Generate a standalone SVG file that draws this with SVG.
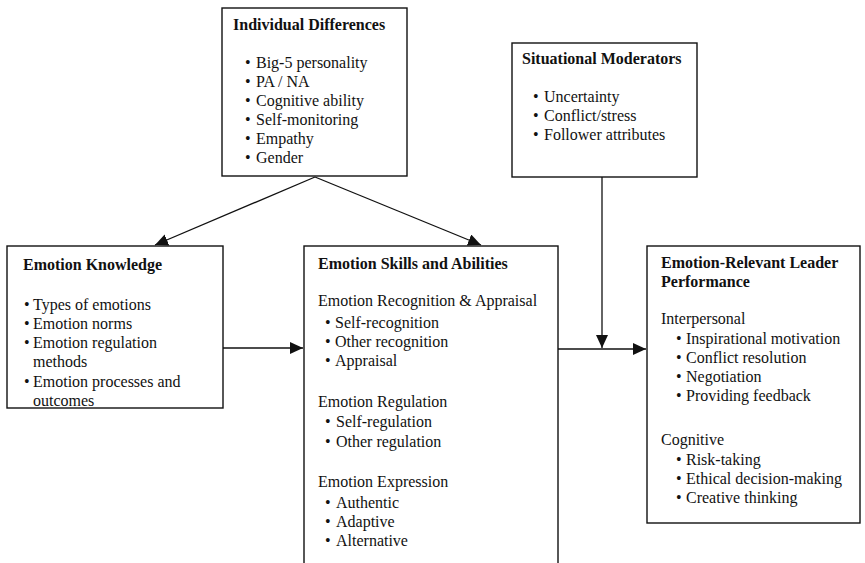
<svg xmlns="http://www.w3.org/2000/svg" width="865" height="563" viewBox="0 0 865 563">
<style>
.box{fill:#fff;stroke:#111;stroke-width:1.4}
text{font-family:"Liberation Serif","Times New Roman",serif;font-size:16px;fill:#111}
.t{font-weight:bold}
.c{fill:none;stroke:#111;stroke-width:1.3}
</style>
<defs>
<marker id="ah" markerUnits="userSpaceOnUse" markerWidth="14" markerHeight="12" refX="13" refY="6" orient="auto">
<path d="M0,0 L13,6 L0,12 Z" fill="#111"/>
</marker>
</defs>
<rect width="865" height="563" fill="#fff"/>
<g id="connectors">
<line class="c" x1="315" y1="177" x2="155" y2="245" marker-end="url(#ah)"/>
<line class="c" x1="315" y1="177" x2="481" y2="245" marker-end="url(#ah)"/>
<line class="c" x1="223" y1="348" x2="303" y2="348" marker-end="url(#ah)"/>
<line class="c" x1="558" y1="349" x2="646" y2="349" marker-end="url(#ah)"/>
<line class="c" x1="602" y1="177" x2="602" y2="348" marker-end="url(#ah)"/>
</g>
<g id="individual-differences">
<rect class="box" x="222" y="8" width="185" height="168"/>
<text class="t" x="233" y="30">Individual Differences</text>
<text x="245" y="68">• <tspan x="256">Big-5 personality</tspan></text>
<text x="245" y="87">• <tspan x="256">PA / NA</tspan></text>
<text x="245" y="106">• <tspan x="256">Cognitive ability</tspan></text>
<text x="245" y="125">• <tspan x="256">Self-monitoring</tspan></text>
<text x="245" y="144">• <tspan x="256">Empathy</tspan></text>
<text x="245" y="163">• <tspan x="256">Gender</tspan></text>
</g>
<g id="situational-moderators">
<rect class="box" x="512" y="43" width="185" height="134"/>
<text class="t" x="522" y="64">Situational Moderators</text>
<text x="533" y="102">• <tspan x="544">Uncertainty</tspan></text>
<text x="533" y="121">• <tspan x="544">Conflict/stress</tspan></text>
<text x="533" y="140">• <tspan x="544">Follower attributes</tspan></text>
</g>
<g id="emotion-knowledge">
<rect class="box" x="7" y="246" width="216" height="162"/>
<text class="t" x="23" y="270">Emotion Knowledge</text>
<text x="24" y="310">• <tspan x="33">Types of emotions</tspan></text>
<text x="24" y="329">• <tspan x="33">Emotion norms</tspan></text>
<text x="24" y="348">• <tspan x="33">Emotion regulation</tspan></text>
<text x="33" y="367">methods</text>
<text x="24" y="387">• <tspan x="33">Emotion processes and</tspan></text>
<text x="33" y="406">outcomes</text>
</g>
<g id="emotion-skills">
<rect class="box" x="304" y="246" width="254" height="330"/>
<text class="t" x="318" y="269">Emotion Skills and Abilities</text>
<text x="318" y="306">Emotion Recognition &amp; Appraisal</text>
<text x="325" y="328">• <tspan x="335">Self-recognition</tspan></text>
<text x="325" y="347">• <tspan x="335">Other recognition</tspan></text>
<text x="325" y="366">• <tspan x="335">Appraisal</tspan></text>
<text x="318" y="407">Emotion Regulation</text>
<text x="325" y="427">• <tspan x="336">Self-regulation</tspan></text>
<text x="325" y="447">• <tspan x="336">Other regulation</tspan></text>
<text x="318" y="487">Emotion Expression</text>
<text x="325" y="508">• <tspan x="336">Authentic</tspan></text>
<text x="325" y="527">• <tspan x="336">Adaptive</tspan></text>
<text x="325" y="546">• <tspan x="336">Alternative</tspan></text>
</g>
<g id="leader-performance">
<rect class="box" x="647" y="246" width="213" height="277"/>
<text class="t" x="661" y="268">Emotion-Relevant Leader</text>
<text class="t" x="661" y="287">Performance</text>
<text x="661" y="324">Interpersonal</text>
<text x="676" y="344">• <tspan x="686">Inspirational motivation</tspan></text>
<text x="676" y="363">• <tspan x="686">Conflict resolution</tspan></text>
<text x="676" y="382">• <tspan x="686">Negotiation</tspan></text>
<text x="676" y="401">• <tspan x="686">Providing feedback</tspan></text>
<text x="661" y="445">Cognitive</text>
<text x="676" y="465">• <tspan x="686">Risk-taking</tspan></text>
<text x="676" y="484">• <tspan x="686">Ethical decision-making</tspan></text>
<text x="676" y="503">• <tspan x="686">Creative thinking</tspan></text>
</g>
</svg>
